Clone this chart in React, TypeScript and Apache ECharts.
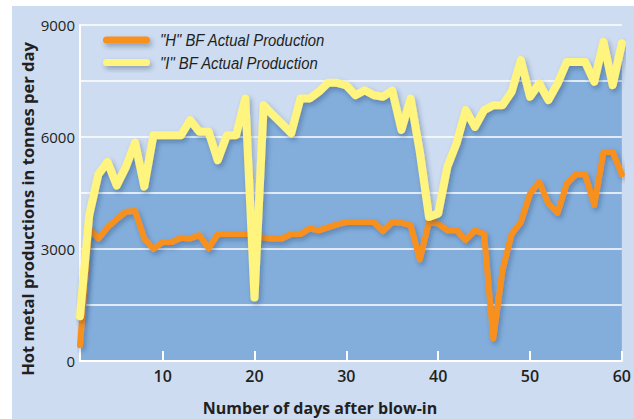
import React, { useEffect, useRef } from "react";
import * as echarts from "echarts";

const days: string[] = Array.from({ length: 60 }, (_, i) => String(i + 1));

const hProduction = [
  420, 3550, 3280, 3580, 3800, 4000, 4020, 3280, 3000, 3190,
  3190, 3300, 3280, 3370, 3020, 3400, 3400, 3400, 3400, 3400,
  3300, 3280, 3280, 3400, 3400, 3550, 3500, 3580, 3660, 3720,
  3720, 3720, 3720, 3480, 3720, 3700, 3640, 2720, 3720, 3680,
  3500, 3500, 3240, 3500, 3400, 600, 2430, 3400, 3720, 4480,
  4800, 4220, 3970, 4750, 5000, 5000, 4180, 5600, 5600, 5000,
];

const iProduction = [
  1200, 3900, 5000, 5330, 4700, 5200, 5850, 4670, 6050, 6050,
  6050, 6050, 6450, 6140, 6140, 5380, 6050, 6050, 7030, 1700,
  6850, 6590, 6350, 6100, 7030, 7030, 7210, 7450, 7450, 7380,
  7120, 7250, 7120, 7080, 7240, 6190, 7030, 5600, 3860, 3950,
  5200, 5830, 6720, 6270, 6720, 6850, 6850, 7210, 8060, 7080,
  7430, 6990, 7430, 8010, 8010, 8010, 7480, 8550, 7390, 8510,
];

const xTickLabels = ["10", "20", "30", "40", "50", "60"];
const yTickLabels = [0, 3000, 6000, 9000];
const seriesNames = ['"H" BF Actual Production', '"I" BF Actual Production'];
const xAxisName = "Number of days after blow-in";
const yAxisName = "Hot metal productions in tonnes per day";

const ORANGE = "#f7901e";
const YELLOW = "#fff47e";
const AREA = "#83aedc";
const PANEL = "#cddcf0";
const TEXT = "#231f20";
const LABEL_FONT = "'Open Sans', 'Noto Sans', sans-serif";
const LEGEND_FONT = "'Liberation Sans Narrow', 'Liberation Sans', sans-serif";

const shadow = {
  shadowColor: "rgba(30, 50, 90, 0.35)",
  shadowBlur: 5,
  shadowOffsetX: 2,
  shadowOffsetY: 3,
};

export default function App() {
  const ref = useRef<HTMLDivElement>(null);

  useEffect(() => {
    const chart = echarts.init(ref.current!, null, { renderer: "svg" });
    const showTick = (_i: number, v: string) => xTickLabels.indexOf(v) >= 0;
    const legendText = (text: string, y: number) => ({
      type: "text",
      z: 10,
      x: 160,
      y,
      scaleX: 0.875,
      style: {
        text,
        fill: TEXT,
        fontSize: 17,
        fontStyle: "italic",
        fontFamily: LEGEND_FONT,
        align: "left",
        textAlign: "left",
        verticalAlign: "middle",
        textVerticalAlign: "middle",
      },
    });
    chart.setOption({
      animation: false,
      backgroundColor: "#ffffff",
      grid: { left: 80, right: 11, top: 25, bottom: 58 },
      xAxis: {
        type: "category",
        data: days,
        boundaryGap: false,
        z: 3,
        axisLine: { show: true, lineStyle: { color: "#ffffff", width: 2 } },
        axisTick: {
          show: true,
          inside: true,
          length: 10,
          interval: showTick,
          lineStyle: { color: "#ffffff", width: 2 },
        },
        axisLabel: {
          interval: showTick,
          color: TEXT,
          fontSize: 16,
          fontWeight: 600,
          fontFamily: LABEL_FONT,
          margin: 7,
        },
        splitLine: { show: false },
      },
      yAxis: {
        type: "value",
        min: 0,
        max: 9000,
        interval: 1500,
        z: 3,
        axisLine: { show: true, lineStyle: { color: "#ffffff", width: 2 } },
        axisTick: { show: false },
        splitLine: { show: true, lineStyle: { color: "#ffffff", width: 1.5 } },
        axisLabel: {
          formatter: (v: number) => (yTickLabels.indexOf(v) >= 0 ? String(v) : ""),
          color: TEXT,
          fontSize: 15,
          fontFamily: LABEL_FONT,
          margin: 5,
        },
      },
      series: [
        {
          type: "line",
          data: iProduction,
          symbol: "none",
          silent: true,
          z: 1,
          lineStyle: { width: 0, opacity: 0 },
          areaStyle: { color: AREA, opacity: 1 },
        },
        {
          name: seriesNames[0],
          type: "line",
          data: hProduction,
          symbol: "none",
          z: 5,
          lineStyle: { color: ORANGE, width: 6, cap: "round", join: "round", ...shadow },
        },
        {
          name: seriesNames[1],
          type: "line",
          data: iProduction,
          symbol: "none",
          z: 6,
          lineStyle: { color: YELLOW, width: 8, cap: "round", join: "round", ...shadow },
        },
      ],
      graphic: [
        {
          type: "rect",
          z: -10,
          shape: { x: 12, y: 6, width: 622, height: 413 },
          style: { fill: PANEL },
        },
        {
          type: "rect",
          z: 10,
          shape: { x: 103, y: 36.5, width: 47, height: 7, r: 3.5 },
          style: { fill: ORANGE, ...shadow },
        },
        {
          type: "rect",
          z: 10,
          shape: { x: 103, y: 59, width: 47, height: 7, r: 3.5 },
          style: { fill: YELLOW, ...shadow },
        },
        legendText(seriesNames[0], 40),
        legendText(seriesNames[1], 63),
        {
          type: "text",
          z: 10,
          x: 320,
          y: 408,
          style: {
            text: xAxisName,
            fill: TEXT,
            fontSize: 16,
            fontWeight: 700,
            fontFamily: LABEL_FONT,
            align: "center",
            textAlign: "center",
            verticalAlign: "middle",
            textVerticalAlign: "middle",
          },
        },
        {
          type: "text",
          z: 10,
          x: 27,
          y: 209,
          rotation: Math.PI / 2,
          style: {
            text: yAxisName,
            fill: TEXT,
            fontSize: 16.5,
            fontWeight: 700,
            fontFamily: LABEL_FONT,
            align: "center",
            textAlign: "center",
            verticalAlign: "middle",
            textVerticalAlign: "middle",
          },
        },
      ],
    });
    return () => chart.dispose();
  }, []);

  return (
    <div
      ref={ref}
      style={{ position: "fixed", left: 0, top: 0, width: 634, height: 419 }}
    />
  );
}
